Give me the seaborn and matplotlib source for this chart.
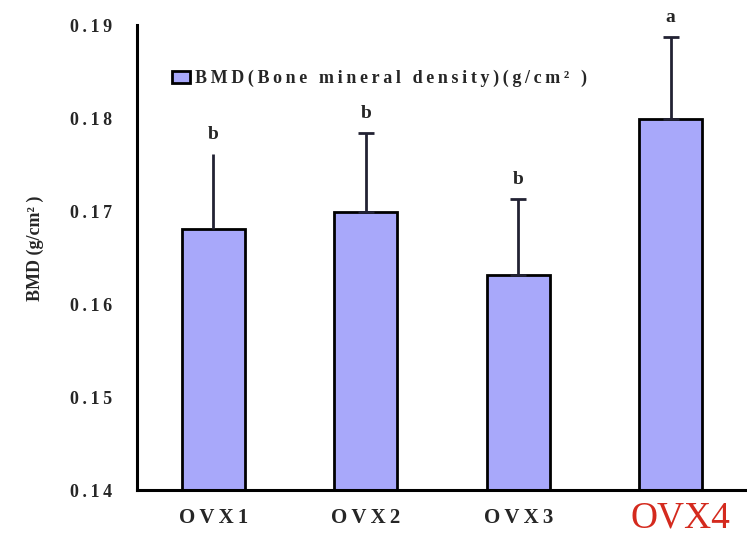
import numpy as np
import pandas as pd
import matplotlib
matplotlib.use("Agg")
import matplotlib.pyplot as plt
import seaborn as sns

#----------------------------------------------------
# DATA
#----------------------------------------------------

groups = ["OVX1", "OVX2", "OVX3", "OVX4"]
bmd_mean = [0.1681, 0.1699, 0.1631, 0.1799]
bmd_err = [0.0080, 0.0085, 0.0082, 0.0088]
sig_letters = ["b", "b", "b", "a"]
has_cap = [False, True, True, True]
y_ticks = [0.14, 0.15, 0.16, 0.17, 0.18, 0.19]

BAR_COLOR = "#a8a8fa"
THIN = "\u2009"

## spread the letters of a label a little, like the original
def spaced( txt ):
    return THIN.join(txt)

#----------------------------------------------------
# PLOT
#----------------------------------------------------

sns.set_style("white")
plt.rcParams["font.family"] = ["Liberation Serif", "DejaVu Serif"]

my_df = pd.DataFrame({"group": groups, "bmd": bmd_mean})

my_fig = plt.figure(figsize=(7.47, 5.38), dpi=100)
ax = my_fig.add_axes([0.1834, 0.0892, 0.8166, 0.8643])

sns.barplot(data=my_df, x="group", y="bmd", color=BAR_COLOR, width=0.41,
            edgecolor="black", linewidth=2, saturation=1, ax=ax,
            label=spaced("BMD(Bone mineral density)(g/cm\u00b2 )"))

#upper error bars only
for i, (m, e) in enumerate(zip(bmd_mean, bmd_err)):
    ax.errorbar(i, m, yerr=[[0], [e]], fmt="none", ecolor="#222233",
                elinewidth=2, capsize=6 if has_cap[i] else 0, capthick=2)
    ax.annotate(sig_letters[i], (i, m + e), xytext=(0, 8), textcoords="offset points",
                ha="center", va="bottom", fontsize=14, fontweight="bold",
                annotation_clip=False)

ax.set_xlim(-0.5, 3.5)
ax.set_ylim(0.14, 0.19)
ax.set_yticks(y_ticks)
ax.set_yticklabels([spaced(f"{v:.2f}") for v in y_ticks], fontsize=13, fontweight="bold")
ax.tick_params(axis="y", direction="in", length=7, width=2, pad=18)

#first three labels as tick labels, OVX4 drawn on its own (red, bigger)
ax.set_xticks(range(len(groups)))
ax.set_xticklabels([spaced(g) for g in groups[:3]] + [""], fontsize=15, fontweight="bold")
ax.tick_params(axis="x", length=0, pad=13)
ax.annotate(groups[3], (3, 0.14), xytext=(7, -27), textcoords="offset points",
            ha="center", va="baseline", fontsize=27, color="#d42a1e",
            annotation_clip=False)
ax.set_xticks([0.5, 1.5, 2.5], minor=True)
ax.tick_params(axis="x", which="minor", direction="in", length=5, width=2)

ax.set_xlabel("")
ax.set_ylabel("BMD (g/cm\u00b2 )", fontsize=13, fontweight="bold")
ax.yaxis.set_label_coords(-0.152, 0.52)

for side in ["top", "right"]:
    ax.spines[side].set_visible(False)
for side in ["left", "bottom"]:
    ax.spines[side].set_linewidth(2.2)
    ax.spines[side].set_color("black")

ax.legend(loc="upper left", bbox_to_anchor=(0.045, 0.919), frameon=False,
          prop={"weight": "bold", "size": 13}, handlelength=1.0, handleheight=0.6,
          handletextpad=0.3, borderaxespad=0)

my_fig.savefig("out.png", dpi=100)
